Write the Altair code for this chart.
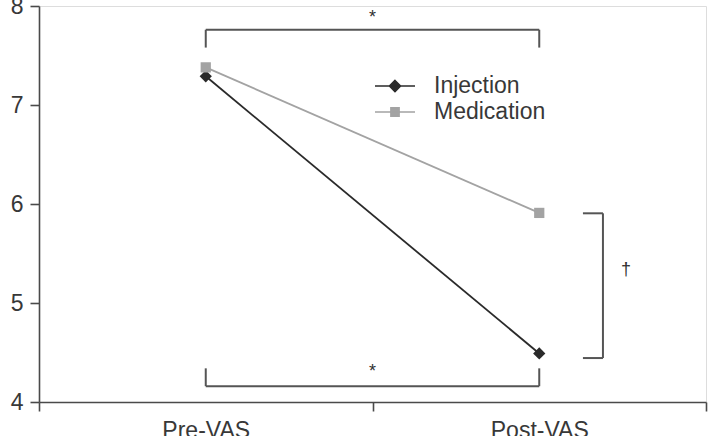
import altair as alt
import pandas as pd

# Mean VAS score per group before and after treatment
phases = ["Pre-VAS", "Post-VAS"]
injection = [7.29, 4.49]
medication = [7.38, 5.91]
series = ["Injection", "Medication"]
series_colors = ["#2a2a2a", "#a3a3a3"]
series_shapes = ["diamond", "square"]
marker_sizes = [150, 105]

rows = []
for name, vals in zip(series, [injection, medication]):
    for ph, v in zip(phases, vals):
        rows.append({"series": name, "phase": ph, "vas": v})
df = pd.DataFrame(rows)

# significance brackets (x in phase-slot units, y in VAS units)
bracket_x = [0.5, 0.5, 1.5, 0.5, 0.5, 1.5, 1.631, 1.631, 1.691]
bracket_x2 = [1.5, 0.5, 1.5, 1.5, 0.5, 1.5, 1.691, 1.691, 1.691]
bracket_y = [7.76, 7.58, 7.58, 4.16, 4.16, 4.16, 5.906, 4.444, 4.444]
bracket_y2 = [7.76, 7.76, 7.76, 4.16, 4.34, 4.34, 5.906, 4.444, 5.906]
marks_text = ["*", "*", "\u2020"]
marks_x = [1.0, 1.0, 1.76]
marks_y = [7.88, 4.30, 5.33]

brackets = pd.DataFrame({"x": bracket_x, "x2": bracket_x2, "y": bracket_y, "y2": bracket_y2})
signs = pd.DataFrame({"label": marks_text, "x": marks_x, "y": marks_y})

FONT = "Liberation Sans"
AXIS_COLOR = "#4a4a4a"
TEXT_COLOR = "#383838"

label_expr = " : ".join(
    [f"datum.value == {i + 0.5} ? '{p}'" for i, p in enumerate(phases)] + ["''"]
)

axis_style = dict(
    title=None,
    grid=False,
    tickSize=9,
    labelFontSize=23,
    labelFont=FONT,
    labelColor=TEXT_COLOR,
    domainColor=AXIS_COLOR,
    tickColor=AXIS_COLOR,
    domainWidth=1.6,
    tickWidth=1.6,
)

x_enc = alt.X(
    "xpos:Q",
    scale=alt.Scale(domain=[0, len(phases)], nice=False, zero=False),
    axis=alt.Axis(
        values=[i * 0.5 for i in range(2 * len(phases) + 1)],
        labelExpr=label_expr,
        labelPadding=8,
        tickOpacity={"condition": {"test": "datum.value % 1 == 0", "value": 1}, "value": 0},
        **axis_style,
    ),
)
y_enc = alt.Y(
    "vas:Q",
    scale=alt.Scale(domain=[4, 8], nice=False, zero=False),
    axis=alt.Axis(values=[4, 5, 6, 7, 8], format="d", labelPadding=7, **axis_style),
)

base = alt.Chart(df).transform_calculate(
    xpos=f"indexof({phases!r}, datum.phase) + 0.5"
)

# one line + marker layer per group, each in its own colour
series_layers = []
for i, (name, col, shp, sz) in enumerate(zip(series, series_colors, series_shapes, marker_sizes)):
    sub = base.transform_filter(alt.datum.series == name)
    series_layers.append(
        sub.mark_line(color=col, strokeWidth=1.8).encode(
            x=x_enc if i == 0 else "xpos:Q", y=y_enc if i == 0 else "vas:Q"
        )
    )
    series_layers.append(
        sub.mark_point(filled=True, opacity=1, shape=shp, size=sz, color=col).encode(
            x="xpos:Q", y="vas:Q"
        )
    )

# legend symbols: a short line segment with the group marker in the middle
leg_paths = [
    "M-1.67,0L1.67,0M0,-0.46L0.46,0L0,0.46L-0.46,0Z",
    "M-1.67,0L1.67,0M-0.34,-0.34L0.34,-0.34L0.34,0.34L-0.34,0.34Z",
]
leg = alt.Legend(
    title=None,
    orient="none",
    legendX=343,
    legendY=67,
    symbolSize=576,
    symbolStrokeWidth=1.6,
    symbolOpacity=1,
    labelFontSize=23,
    labelFont=FONT,
    labelColor=TEXT_COLOR,
    labelOffset=26,
    rowPadding=1,
)
legend_layer = (
    base.transform_filter("false")
    .mark_point(filled=True, strokeWidth=1.6, opacity=1)
    .encode(
        shape=alt.Shape("series:N", scale=alt.Scale(domain=series, range=leg_paths), legend=leg),
        fill=alt.Fill("series:N", scale=alt.Scale(domain=series, range=series_colors), legend=leg),
        stroke=alt.Stroke("series:N", scale=alt.Scale(domain=series, range=series_colors), legend=leg),
    )
)

rules = alt.Chart(brackets).mark_rule(color="#555555", strokeWidth=2).encode(
    x="x:Q", x2="x2", y="y:Q", y2="y2"
)

texts = alt.Chart(signs).mark_text(fontSize=18, font=FONT, color="#303030").encode(
    x="x:Q", y="y:Q", text="label:N"
)

chart = (
    alt.layer(rules, *series_layers, texts, legend_layer)
    .properties(width=667, height=396, padding={"left": 39, "top": 6, "right": 11, "bottom": 34}, autosize="none")
    .configure_view(stroke=None)
    .configure(background="white")
)

chart.save("out.html", embed_options={"renderer": "svg", "actions": False})
